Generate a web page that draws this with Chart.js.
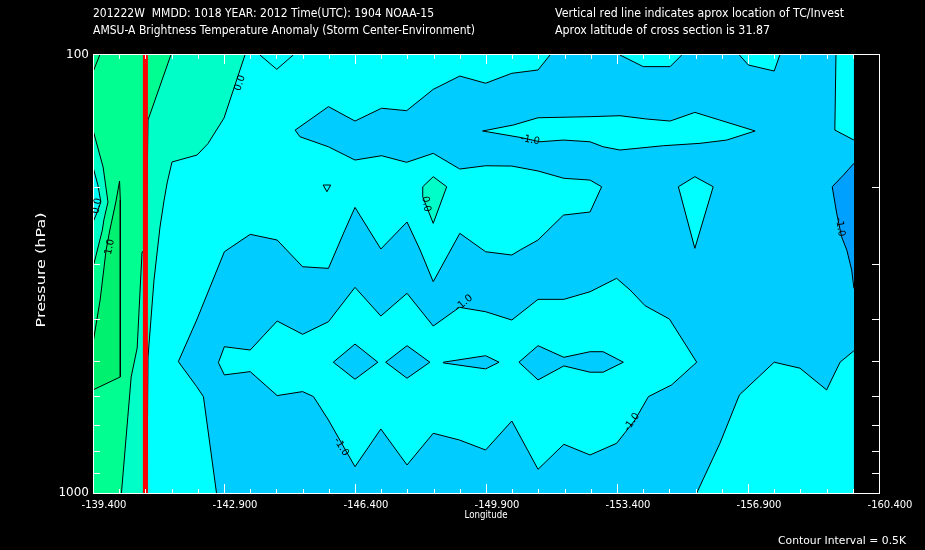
<!DOCTYPE html>
<html>
<head>
<meta charset="utf-8">
<script src="https://cdn.jsdelivr.net/npm/chart.js@4.4.1/dist/chart.umd.min.js"></script>
<style>
  html, body { margin: 0; padding: 0; background: #000; }
  canvas { display: block; }
</style>
</head>
<body>
<canvas id="chart" width="925" height="550"></canvas>
<script>
// axes
const LON_WEST = -139.4;
const LON_EAST = -160.4;
const LON_DATA_EDGE = -159.73;   // no data east of this, shows black
const P_TOP = 100;
const P_BOTTOM = 1000;

const xTickLabels = [-139.4, -142.9, -146.4, -149.9, -153.4, -156.9, -160.4];
const yTickLabels = [100, 1000];
const yMinorTicks = [200, 300, 400, 500, 600, 700, 800, 900];
const stormLon = -140.8;

// shaded regions, points are [longitude, pressure hPa]
const fieldBox = [[-139.4, 100], [-159.73, 100], [-159.73, 1000], [-139.4, 1000]];

const warmLow = [   // 0.0 .. 0.5
  [-139.4, 100], [-143.46, 100], [-142.90, 139.3], [-142.47, 159.4], [-142.18, 169.2],
  [-141.51, 175.5], [-141.38, 196.0], [-141.30, 214.4], [-141.19, 247.1], [-141.03, 326.4],
  [-140.87, 489.3], [-140.84, 1000], [-139.4, 1000]
];

const warmMid = [   // 0.5 .. 1.0
  [-139.4, 100], [-141.48, 100], [-140.87, 140.7], [-140.82, 278.8], [-140.71, 281.7],
  [-140.58, 466.7], [-140.42, 543.2], [-140.16, 1000], [-139.4, 1000], [-139.4, 303.3],
  [-139.43, 298.5], [-139.65, 251.0], [-139.69, 238.1], [-139.80, 216.6], [-139.67, 180.2],
  [-139.4, 148.4]
];

const coolEdgeWest = [
  [-139.4, 180.2], [-139.53, 198.1], [-139.61, 216.6], [-139.48, 232.0], [-139.4, 240.6]
];

const warmCore = [  // > 1.0
  [-140.11, 194.0], [-140.13, 214.4], [-140.13, 543.2], [-139.4, 581.6], [-139.4, 454.6],
  [-139.59, 362.6], [-139.75, 278.8], [-139.85, 251.0], [-140.01, 216.6]
];

const coldMain = [  // below -1.0
  [-151.61, 100], [-159.25, 100], [-159.22, 148.4], [-159.73, 156.4], [-159.73, 473.3],
  [-159.36, 502.8], [-159.00, 581.6], [-158.29, 518.9], [-157.60, 502.8], [-156.67, 597.1],
  [-156.15, 770.1], [-155.53, 1000], [-142.70, 1000], [-142.35, 602.4], [-142.17, 571.6],
  [-141.68, 501.2], [-142.17, 402.8], [-142.91, 281.3], [-143.60, 256.7], [-144.32, 264.5],
  [-145.00, 304.4], [-145.69, 307.0], [-146.13, 251.0], [-146.40, 222.8], [-147.09, 277.3],
  [-147.79, 240.6], [-148.14, 278.8], [-148.49, 329.3], [-149.20, 255.4], [-149.89, 281.3],
  [-150.59, 286.2], [-150.81, 278.8], [-151.29, 264.5], [-151.97, 232.0], [-152.68, 228.3],
  [-152.99, 199.9], [-152.68, 193.0], [-151.98, 191.2], [-151.29, 184.0], [-150.59, 179.3],
  [-149.89, 179.0], [-149.20, 182.1], [-148.49, 167.7], [-147.78, 175.8], [-147.11, 169.8],
  [-146.40, 173.7], [-145.69, 162.0], [-144.93, 153.7], [-144.80, 148.4], [-144.93, 145.8],
  [-145.69, 131.2], [-146.40, 141.5], [-147.11, 132.3], [-147.78, 134.0], [-148.49, 119.8],
  [-149.20, 111.7], [-149.89, 116.0], [-150.59, 110.1], [-151.29, 108.2]
];

const gapUpper = [
  [-149.81, 149.1], [-150.63, 144.5], [-151.29, 139.1], [-152.68, 138.3], [-153.48, 137.6],
  [-154.19, 140.0], [-154.82, 141.5], [-155.48, 135.2], [-157.09, 149.1], [-156.33, 156.4],
  [-155.62, 159.1], [-154.64, 161.1], [-153.48, 164.8], [-153.03, 162.0], [-152.68, 157.8],
  [-151.97, 156.4], [-151.34, 157.8], [-150.81, 154.2]
];
const gapTopA = [[-153.48, 100], [-154.10, 106.3], [-154.82, 106.3], [-155.13, 100]];
const gapTopB = [[-156.67, 100], [-156.91, 105.4], [-157.60, 108.8], [-157.75, 100]];
const gapKite = [[-155.04, 199.9], [-155.48, 189.6], [-155.97, 199.9], [-155.48, 276.3]];

const gapMiddle = [
  [-142.75, 503.8], [-142.91, 463.5], [-143.60, 471.6], [-144.32, 404.9], [-145.00, 434.2],
  [-145.69, 406.4], [-146.40, 339.2], [-147.09, 394.4], [-147.79, 350.0], [-148.49, 415.7],
  [-149.19, 376.8], [-149.89, 385.6], [-150.59, 402.8], [-151.29, 361.3], [-151.98, 361.3],
  [-152.68, 347.1], [-153.39, 323.5], [-153.75, 344.0], [-154.15, 373.6], [-154.80, 400.7],
  [-155.53, 502.8], [-154.86, 566.5], [-154.24, 602.4], [-153.88, 681.3], [-153.39, 770.1],
  [-152.68, 818.9], [-151.98, 774.1], [-151.29, 882.9], [-150.59, 684.9], [-149.89, 797.7],
  [-149.19, 756.8], [-148.49, 730.6], [-147.79, 863.1], [-147.09, 714.3], [-146.40, 870.9],
  [-145.69, 681.3], [-145.29, 602.4], [-145.00, 586.8], [-144.32, 599.3], [-143.60, 528.3],
  [-142.91, 537.5]
];

const coldDiamondA = [[-145.82, 502.8], [-146.40, 457.0], [-147.01, 502.8], [-146.40, 549.8]];
const coldDiamondB = [[-147.22, 502.8], [-147.79, 461.0], [-148.40, 502.8], [-147.79, 546.9]];
const coldLens = [[-148.76, 502.8], [-149.89, 485.9], [-150.25, 502.8], [-149.89, 520.8], [-148.76, 504.6]];
const coldTongue = [
  [-150.78, 502.8], [-151.29, 461.0], [-151.98, 490.0], [-152.68, 475.8], [-153.03, 475.8],
  [-153.57, 502.8], [-153.03, 529.9], [-152.68, 529.9], [-151.98, 512.7], [-151.29, 551.8]
];

const coldCore = [  // below -1.5
  [-159.73, 176.7], [-159.45, 188.0], [-159.15, 199.9], [-159.27, 229.9], [-159.40, 260.0],
  [-159.54, 278.8], [-159.67, 309.7], [-159.73, 341.0]
];

const warmKite = [[-148.21, 199.9], [-148.49, 189.6], [-148.85, 199.9], [-148.49, 242.3], [-148.21, 210.7]];

// bare contour lines
const cornerLine = [[-139.58, 100], [-139.4, 109.3]];
const topVee = [[-143.86, 100], [-144.31, 107.8], [-144.75, 100]];
const tinyLoop = [[-145.55, 198.1], [-145.75, 198.1], [-145.65, 205.2]];

// contour labels
const labelText = ['0.0', '0.0', '1.0', '-1.0', '-1.0', '-1.0', '-1.0', '-1.0', '0.0'];
const labelLon = [-143.33, -139.51, -139.85, -151.08, -149.31, -146.03, -153.80, -159.36, -148.30];
const labelP = [115.9, 221.2, 274.4, 156.4, 368.4, 785.2, 688.5, 247.1, 218.9];
const labelAngle = [-72, -78, -78, 10, -40, 58, -55, 80, 80];

const CYAN = '#00ffff';
const BLUE = '#00ccff';
const DEEP = '#00a0ff';
const AQUA = '#00ffc8';
const GREEN = '#00ff90';
const DKGREEN = '#00f070';

// shaded areas, bottom layer first
const shaded = [
  [fieldBox, CYAN], [warmLow, AQUA], [warmMid, GREEN], [coolEdgeWest, CYAN], [warmCore, DKGREEN],
  [coldMain, BLUE], [gapUpper, CYAN], [gapTopA, CYAN], [gapTopB, CYAN], [gapKite, CYAN],
  [gapMiddle, CYAN], [coldDiamondA, BLUE], [coldDiamondB, BLUE], [coldLens, BLUE],
  [coldTongue, BLUE], [coldCore, DEEP], [warmKite, AQUA]
];

function onFrame(c) {
  const a = c.p0.parsed, b = c.p1.parsed;
  if (a.x === b.x && (a.x === LON_WEST || a.x === LON_DATA_EDGE)) return true;
  if (a.y === b.y && (a.y === P_TOP || a.y === P_BOTTOM)) return true;
  return false;
}

const toXY = pts => pts.map(([x, y]) => ({ x, y }));

function fillSet(pts, color) {
  return {
    data: toXY(pts.concat([pts[0]])),
    showLine: true, fill: 'shape',
    backgroundColor: color, borderColor: 'rgba(0,0,0,0)', borderWidth: 0,
    pointRadius: 0, pointHoverRadius: 0, tension: 0
  };
}

function lineSet(pts, closed) {
  return {
    data: toXY(closed ? pts.concat([pts[0]]) : pts),
    showLine: true, fill: false,
    borderColor: '#000', borderWidth: 1,
    pointRadius: 0, pointHoverRadius: 0, tension: 0,
    segment: { borderColor: c => onFrame(c) ? 'rgba(0,0,0,0)' : '#000' }
  };
}

const datasets = [
  ...shaded.map(([pts, color]) => fillSet(pts, color)),
  ...shaded.slice(1).map(([pts]) => lineSet(pts, true)),
  lineSet(cornerLine, false),
  lineSet(topVee, false),
  lineSet(tinyLoop, true),
  {
    data: [{ x: stormLon, y: P_TOP }, { x: stormLon, y: P_BOTTOM }],
    showLine: true, fill: false, borderColor: '#ff0000', borderWidth: 5,
    pointRadius: 0, pointHoverRadius: 0
  }
];
// first in list = lowest layer
datasets.forEach((d, i) => { d.order = -i; });

// frame, inward ticks, contour labels
const frameTicks = {
  id: 'frameTicks',
  afterDatasetsDraw(chart) {
    const { ctx, chartArea: a, scales: { x, y } } = chart;
    ctx.save();
    ctx.strokeStyle = '#fff';
    ctx.lineWidth = 1;
    ctx.strokeRect(a.left + 0.5, a.top - 0.5, a.right - a.left, a.bottom - a.top + 1);
    ctx.beginPath();
    for (let k = 0; k <= 30; k++) {
      const px = Math.round(x.getPixelForValue(LON_WEST - 0.7 * k)) + 0.5;
      const len = k % 5 === 0 ? 9 : 4;
      ctx.moveTo(px, a.top); ctx.lineTo(px, a.top + len);
      ctx.moveTo(px, a.bottom); ctx.lineTo(px, a.bottom - len);
    }
    yMinorTicks.forEach(p => {
      const py = Math.round(y.getPixelForValue(p)) + 0.5;
      ctx.moveTo(a.left, py); ctx.lineTo(a.left + 7, py);
      ctx.moveTo(a.right, py); ctx.lineTo(a.right - 7, py);
    });
    ctx.stroke();

    ctx.fillStyle = '#000';
    ctx.font = '10px "DejaVu Sans"';
    ctx.textAlign = 'center';
    ctx.textBaseline = 'middle';
    labelText.forEach((t, i) => {
      ctx.save();
      ctx.translate(x.getPixelForValue(labelLon[i]), y.getPixelForValue(labelP[i]));
      ctx.rotate(labelAngle[i] * Math.PI / 180);
      ctx.fillText(t, 0, 0);
      ctx.restore();
    });
    ctx.restore();
  }
};

function fitText(ctx, text, x, y, width, align) {
  const w = ctx.measureText(text).width;
  ctx.save();
  ctx.translate(x, y);
  ctx.scale(width / w, 1);
  ctx.textAlign = align;
  ctx.fillText(text, 0, 0);
  ctx.restore();
}

const headerText = {
  id: 'headerText',
  afterDraw(chart) {
    const ctx = chart.ctx;
    ctx.save();
    ctx.fillStyle = '#fff';
    ctx.textBaseline = 'alphabetic';
    ctx.font = '12px "DejaVu Sans"';
    fitText(ctx, '201222W  MMDD: 1018 YEAR: 2012 Time(UTC): 1904 NOAA-15', 93, 17, 341, 'left');
    fitText(ctx, 'AMSU-A Brightness Temperature Anomaly (Storm Center-Environment)', 93, 34, 382, 'left');
    fitText(ctx, 'Vertical red line indicates aprox location of TC/Invest', 555, 17, 289, 'left');
    fitText(ctx, 'Aprox latitude of cross section is 31.87', 555, 34, 215, 'left');
    ctx.font = '10px "DejaVu Sans"';
    fitText(ctx, 'Longitude', 486, 518, 43, 'center');
    fitText(ctx, 'Contour Interval = 0.5K', 778, 544, 128, 'left');
    ctx.font = '13px "DejaVu Sans"';
    ctx.save();
    ctx.translate(45, 270);
    ctx.rotate(-Math.PI / 2);
    fitText(ctx, 'Pressure (hPa)', 0, 0, 115, 'center');
    ctx.restore();
    ctx.restore();
  }
};

Chart.defaults.font.family = '"DejaVu Sans", sans-serif';

new Chart(document.getElementById('chart'), {
  type: 'scatter',
  data: { datasets },
  options: {
    responsive: false,
    animation: false,
    events: [],
    layout: { padding: { top: 55, right: 46, left: 0, bottom: 0 } },
    plugins: { legend: { display: false }, tooltip: { enabled: false } },
    scales: {
      x: {
        type: 'linear', position: 'bottom',
        min: LON_EAST, max: LON_WEST, reverse: true,
        grid: { display: false, drawTicks: false },
        border: { display: false },
        afterBuildTicks: axis => { axis.ticks = xTickLabels.map(v => ({ value: v })); },
        afterFit: axis => { axis.height = 57; },
        ticks: {
          color: '#fff', font: { size: 10 }, padding: 6, labelOffset: 11,
          maxRotation: 0, autoSkip: false, callback: v => v.toFixed(3)
        }
      },
      y: {
        type: 'logarithmic', position: 'left',
        min: P_TOP, max: P_BOTTOM, reverse: true,
        grid: { display: false, drawTicks: false },
        border: { display: false },
        afterBuildTicks: axis => { axis.ticks = yTickLabels.map(v => ({ value: v })); },
        afterFit: axis => { axis.width = 93; },
        ticks: { color: '#fff', font: { size: 12 }, padding: 4, autoSkip: false, callback: v => String(v) }
      }
    }
  },
  plugins: [frameTicks, headerText]
});
</script>
</body>
</html>
